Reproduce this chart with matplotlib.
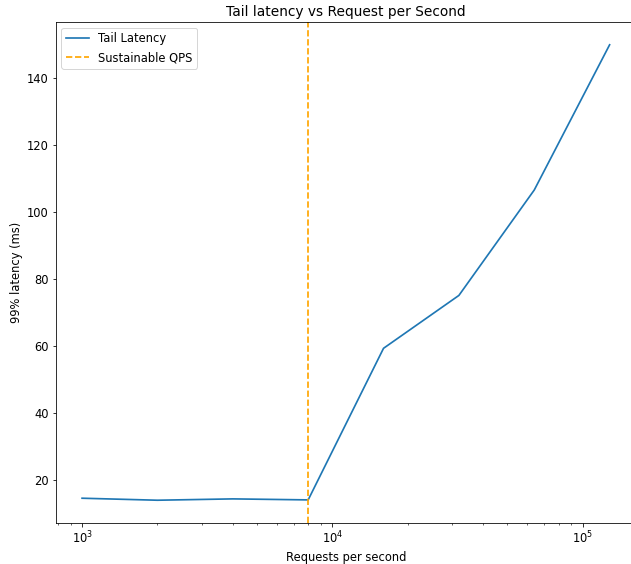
import matplotlib
matplotlib.use("Agg")
import matplotlib.pyplot as plt

requests = [1000, 2000, 4000, 8000, 16000, 32000, 64000, 128000]
latency = [14.5, 13.9, 14.3, 14.0, 59.3, 75.1, 106.6, 150.0]
sustainable_qps = 8000

plt.rcParams["font.size"] = 11.5
plt.rcParams["lines.linewidth"] = 1.7

dpi = 72
fig = plt.figure(figsize=(631 / dpi, 564 / dpi), dpi=dpi)
# axes run slightly past the right edge, as in the cropped original
ax = fig.add_axes([55.7 / 631, 41 / 564, (636 - 55.7) / 631, (523 - 22) / 564])

ax.plot(requests, latency, label="Tail Latency")
ax.axvline(sustainable_qps, color="orange", linestyle="--", label="Sustainable QPS")
ax.set_xscale("log")
ax.set_xlabel("Requests per second")
ax.set_ylabel("99% latency (ms)")
ax.set_title("Tail latency vs Request per Second")
ax.legend(loc="upper left")

fig.savefig("out.png", dpi=dpi)
